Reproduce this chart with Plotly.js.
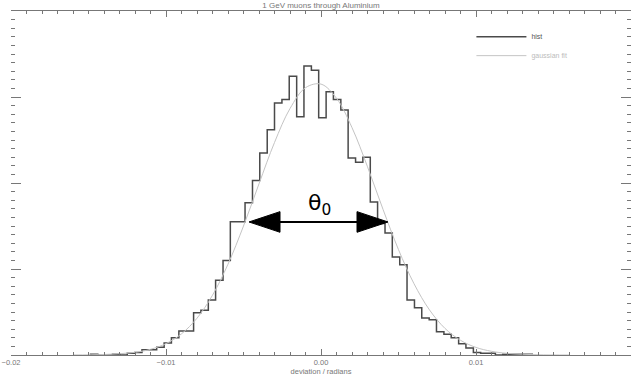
<!DOCTYPE html>
<html>
<head>
<meta charset="utf-8">
<script src="https://cdn.plot.ly/plotly-3.0.1.min.js"></script>
<style>html,body{margin:0;padding:0;background:#fff;}#chart{width:632px;height:376px;}</style>
</head>
<body>
<div id="chart"></div>
<script>
// Histogram bin edges (radians)
const binEdges = [-0.01487,-0.01440,-0.01392,-0.01345,-0.01297,-0.01250,-0.01202,-0.01155,-0.01107,-0.01060,
  -0.01012,-0.00965,-0.00917,-0.00870,-0.00822,-0.00775,-0.00727,-0.00680,-0.00632,-0.00585,
  -0.00537,-0.00490,-0.00442,-0.00395,-0.00347,-0.00300,-0.00252,-0.00205,-0.00157,-0.00110,
  -0.00062,-0.00015,0.00033,0.00080,0.00128,0.00175,0.00223,0.00270,0.00318,0.00365,
  0.00413,0.00460,0.00508,0.00555,0.00603,0.00650,0.00698,0.00745,0.00793,0.00840,
  0.00888,0.00935,0.00983,0.01030,0.01078,0.01125,0.01173,0.01220,0.01268,0.01315,0.01363];
// Counts per bin
const counts = [1,0,0,1,0,2,3,6,6,9,
  14,20,28,28,49,52,64,87,110,155,
  155,177,203,235,262,293,297,324,277,336,
  331,276,306,297,285,229,224,230,178,153,
  142,114,105,64,55,43,41,27,24,20,
  13,8,3,2,2,0,1,1,1,1];
// Gaussian fit curve
const fitX = [-0.016,-0.014,-0.012,-0.011,-0.010,-0.009,-0.008,-0.007,-0.006,-0.005,-0.004,-0.003,-0.002,-0.001,
  0.000,0.001,0.002,0.003,0.004,0.005,0.006,0.007,0.008,0.009,0.010,0.011,0.012,0.014,0.016];
const fitY = [0.1,0.6,3.1,6.6,13.2,24.6,42.8,69.5,105.6,150,199.1,247.1,286.6,310.8,
  315,298.5,264.4,218.9,169.4,122.5,82.9,52.4,30.9,17.1,8.8,4.3,1.9,0.3,0.05];
const xTickVals = [-0.02,-0.01,0,0.01,0.02];
const xTickText = ['\u22120.02','\u22120.01','0.00','0.01','0.02'];
const labels = {title:'1 GeV muons through Aluminium', xTitle:'deviation / radians', hist:'hist', fit:'gaussian fit', theta:'\u03b8<sub>0</sub>'};
// theta_0 arrow ends (radians, counts)
const arrowLeft = -0.004645, arrowRight = 0.004323, arrowY = 154.7;

// build step outline of histogram
const hx = [binEdges[0]], hy = [0];
for (let i = 0; i < counts.length; i++) { hx.push(binEdges[i]); hy.push(counts[i]); }
hx.push(binEdges[counts.length]); hy.push(0);

const gray = '#777';
const traces = [
  {x: hx, y: hy, type:'scatter', mode:'lines', line:{shape:'hv', color:'#4a4a4a', width:1.5}, name: labels.hist},
  {x: fitX, y: fitY, type:'scatter', mode:'lines', line:{shape:'spline', color:'#c4c4c4', width:1}, name:'<span style="color:#bbb">'+labels.fit+'</span>'}
];

// arrow geometry (data units)
const headLen = 0.002, headHalf = 12;
const shapes = [
  {type:'line', xref:'x', yref:'y', x0: arrowLeft+headLen, x1: arrowRight-headLen, y0: arrowY, y1: arrowY, line:{color:'#000', width:2}},
  {type:'path', xref:'x', yref:'y', path:`M${arrowLeft},${arrowY} L${arrowLeft+headLen},${arrowY+headHalf} L${arrowLeft+headLen},${arrowY-headHalf} Z`, fillcolor:'#000', line:{color:'#000', width:1}},
  {type:'path', xref:'x', yref:'y', path:`M${arrowRight},${arrowY} L${arrowRight-headLen},${arrowY+headHalf} L${arrowRight-headLen},${arrowY-headHalf} Z`, fillcolor:'#000', line:{color:'#000', width:1}}
];

const layout = {
  width:632, height:376,
  margin:{l:11, r:1, t:11, b:21, pad:0},
  paper_bgcolor:'#fff', plot_bgcolor:'#fff',
  font:{family:'Liberation Sans, Arial, sans-serif', size:7, color:gray},
  title:{text: labels.title, x:0.5, xref:'paper', y:0.987, yref:'container', yanchor:'middle', font:{size:8, color:gray}},
  showlegend:true,
  legend:{x:0.7426, y:0.9676, xanchor:'left', yanchor:'top', bgcolor:'rgba(0,0,0,0)', font:{size:7, color:'#555'}, itemwidth:50, tracegroupgap:4},
  xaxis:{range:[-0.02,0.02], tickvals:xTickVals, ticktext:xTickText, ticks:'inside', ticklen:6, tickcolor:gray, tickwidth:1,
    minor:{dtick:0.001, tick0:0, ticks:'inside', ticklen:3, tickcolor:gray, tickwidth:1},
    showline:true, linecolor:gray, linewidth:1, mirror:'ticks', showgrid:false, zeroline:false,
    tickfont:{size:7.5, color:gray}, title:{text: labels.xTitle, standoff:0, font:{size:7.5, color:gray}}},
  yaxis:{range:[0,400], dtick:100, tick0:0, ticks:'inside', ticklen:10, tickcolor:gray, tickwidth:1,
    minor:{dtick:10, ticks:'inside', ticklen:4, tickcolor:gray, tickwidth:1},
    showline:false, mirror:'ticks', showgrid:false, zeroline:false, showticklabels:false},
  shapes: shapes,
  annotations:[{x:-0.0001, y:175, xref:'x', yref:'y', text: labels.theta, showarrow:false, font:{size:22, color:'#000', family:'DejaVu Sans, sans-serif'}, xanchor:'center', yanchor:'middle'}]
};
Plotly.newPlot('chart', traces, layout, {displayModeBar:false, staticPlot:true});
</script>
</body>
</html>
